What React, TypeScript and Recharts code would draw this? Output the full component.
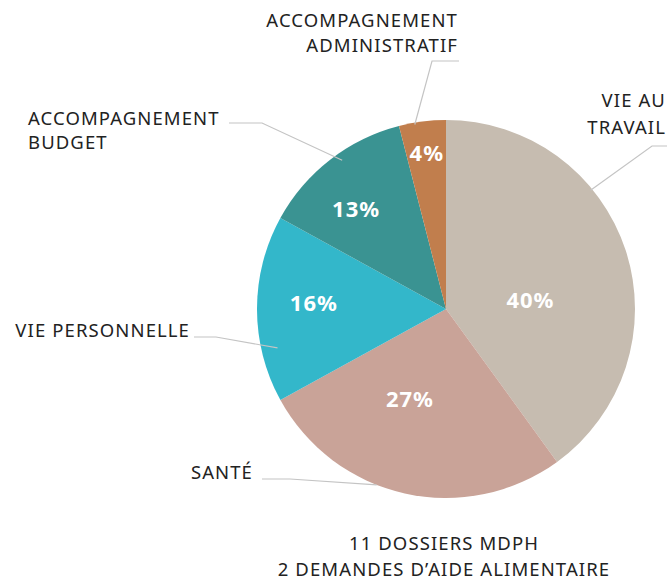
import React from "react";
import { PieChart, Pie, Cell } from "recharts";

const categories = [
  "VIE AU TRAVAIL",
  "SANTÉ",
  "VIE PERSONNELLE",
  "ACCOMPAGNEMENT BUDGET",
  "ACCOMPAGNEMENT ADMINISTRATIF",
];
const labelLines = [
  ["VIE AU", "TRAVAIL"],
  ["SANTÉ"],
  ["VIE PERSONNELLE"],
  ["ACCOMPAGNEMENT", "BUDGET"],
  ["ACCOMPAGNEMENT", "ADMINISTRATIF"],
];
const values = [40, 27, 16, 13, 4];
const footerLines = ["11 DOSSIERS MDPH", "2 DEMANDES D\u2019AIDE ALIMENTAIRE"];

const colors = ["#c6bcb0", "#c9a398", "#33b7ca", "#3a9392", "#c17e4d"];

const data = categories.map((name, i) => ({ name, value: values[i] }));

const FONT = "'Noto Sans', sans-serif";
const RAD = Math.PI / 180;

// layout of annotations (polar positions relative to the pie)
const pctPos = [
  { a: 7, rf: 0.45 },
  { a: 248, rf: 0.51 },
  { a: 177, rf: 0.7 },
  { a: 131.7, rf: 0.715 },
  { a: 97, rf: 0.835 },
];
const leader = [
  { a: 39.4, rf: 0.99, ex: 206, ey: -163, hx: 15, tx: 220, ty: [-209.5, -182.5], anchor: "end" },
  { a: 248.5, rf: 1.0, ex: -156, ey: 170, hx: -28, tx: -193, ty: [162], anchor: "end" },
  { a: 193, rf: 0.915, ex: -230, ey: 28, hx: -22, tx: -256, ty: [20], anchor: "end" },
  { a: 124.9, rf: 0.96, ex: -184, ey: -186, hx: -33, tx: -418, ty: [-191.5, -167.5], anchor: "start" },
  { a: 99.6, rf: 0.99, ex: -14, ey: -248, hx: 27, tx: 12, ty: [-289.5, -264.5], anchor: "end" },
];

const renderLabel = (props: any) => {
  const { cx, cy, outerRadius, index } = props;
  const p = pctPos[index];
  const px = cx + outerRadius * p.rf * Math.cos(p.a * RAD);
  const py = cy - outerRadius * p.rf * Math.sin(p.a * RAD);
  const l = leader[index];
  const sx = cx + outerRadius * l.rf * Math.cos(l.a * RAD);
  const sy = cy - outerRadius * l.rf * Math.sin(l.a * RAD);
  const ex = cx + l.ex;
  const ey = cy + l.ey;
  return (
    <g>
      <text
        x={px}
        y={py}
        textAnchor="middle"
        dominantBaseline="central"
        fill="#ffffff"
        fontFamily={FONT}
        fontWeight={700}
        fontSize={22}
        letterSpacing={1}
      >
        {`${values[index]}%`}
      </text>
      <polyline
        points={`${sx},${sy} ${ex},${ey} ${ex + l.hx},${ey}`}
        fill="none"
        stroke="#c4c4c4"
        strokeWidth={1.2}
      />
      {labelLines[index].map((t, k) => (
        <text
          key={k}
          x={cx + l.tx}
          y={cy + l.ty[k]}
          textAnchor={l.anchor as any}
          dominantBaseline="central"
          fill="#222222"
          fontFamily={FONT}
          fontSize={18.5}
          letterSpacing={1.1}
        >
          {t}
        </text>
      ))}
    </g>
  );
};

export default function App() {
  return (
    <div style={{ position: "absolute", left: 0, top: 0, width: 670, height: 580, background: "#fff" }}>
      <PieChart width={670} height={580} margin={{ top: 0, right: 0, bottom: 0, left: 0 }}>
        <Pie
          data={data}
          dataKey="value"
          nameKey="name"
          cx={446}
          cy={309}
          outerRadius={189}
          startAngle={90}
          endAngle={-270}
          stroke="none"
          label={renderLabel}
          labelLine={false}
          isAnimationActive={false}
        >
          {data.map((d, i) => (
            <Cell key={d.name} fill={colors[i]} />
          ))}
        </Pie>
      </PieChart>
      {footerLines.map((t, k) => (
        <div
          key={k}
          style={{
            position: "absolute",
            left: 144,
            width: 600,
            top: 543 + k * 26 - 8,
            height: 16,
            lineHeight: "16px",
            textAlign: "center",
            fontFamily: FONT,
            fontSize: 18.5,
            letterSpacing: 1.1,
            color: "#222",
            whiteSpace: "nowrap",
          }}
        >
          {t}
        </div>
      ))}
    </div>
  );
}
